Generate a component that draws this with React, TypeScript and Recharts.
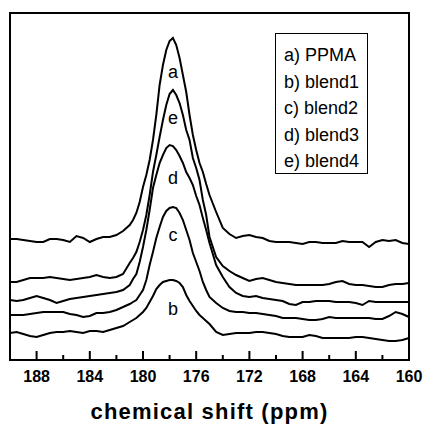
import {
  Line,
  LineChart,
  ReferenceArea,
  ReferenceDot,
  XAxis,
  YAxis,
} from "recharts";

// chemical shift grid (ppm), finer around the carbonyl peak
const ppm = [
  190, 189.5, 189, 188.5, 188, 187.5, 187, 186.5, 186, 185.5, 185, 184.5, 184, 183.5, 183, 182.5, 182, 181.5,
  181, 180.75, 180.5, 180.25, 180, 179.75, 179.5, 179.25, 179, 178.75, 178.5, 178.25, 178, 177.75, 177.5,
  177.25, 177, 176.75, 176.5, 176.25, 176, 175.75, 175.5, 175.25, 175,
  174.5, 174, 173.5, 173, 172.5, 172, 171.5, 171, 170.5, 170, 169.5, 169, 168.5, 168, 167.5, 167, 166.5,
  166, 165.5, 165, 164.5, 164, 163.5, 163, 162.5, 162, 161.5, 161, 160.5, 160,
];

// stacked spectra (intensity incl. vertical offset)
const ppmaA = [
  121, 121, 120, 119, 118, 118, 121, 121, 120, 118, 124, 122, 118, 121, 123, 123, 125, 129,
  135, 140, 147, 158, 173, 185, 200, 220, 245, 275, 295, 310, 319, 322, 315, 302, 285, 268, 245, 225, 210,
  197, 188, 176, 165,
  148, 132, 126, 122, 124, 125, 123, 122, 119, 118, 118, 118, 117, 116, 118, 118, 117, 117, 117, 119, 118,
  118, 118, 113, 118, 120, 119, 120, 117, 116,
];
const blend1B = [
  27, 28, 26, 24, 23, 25, 27, 28, 28, 29, 28, 27, 29, 29, 28, 30, 32, 34,
  38, 40, 42, 45, 48, 52, 58, 64, 71, 75, 78, 79, 80, 80, 79, 77, 73, 65, 59, 54, 49, 45, 42, 39, 36,
  28, 25, 26, 27, 27, 27, 28, 28, 27, 26, 24, 23, 23, 23, 25, 24, 22, 22, 22, 22, 22, 23, 23, 22, 21, 20,
  19, 19, 20, 22,
];
const blend2C = [
  45, 45, 45, 46, 47, 48, 48, 48, 48, 46, 45, 43, 44, 47, 47, 48, 50, 53,
  56, 58, 60, 65, 70, 80, 95, 108, 122, 133, 143, 149, 152, 153, 152, 147, 140, 130, 120, 107, 98, 89, 78,
  70, 63,
  57, 52, 49, 48, 48, 47, 47, 46, 45, 44, 42, 42, 42, 41, 40, 40, 41, 43, 42, 42, 42, 42, 42, 42, 41, 41,
  44, 48, 46, 43,
];
const blend3D = [
  60, 59, 60, 62, 64, 62, 60, 57, 59, 61, 62, 63, 64, 65, 66, 67, 68, 70,
  75, 81, 86, 98, 113, 130, 150, 172, 185, 197, 205, 212, 215, 214, 210, 204, 197, 188, 182, 175, 164, 155,
  142, 130, 117,
  95, 83, 73, 67, 64, 63, 64, 62, 61, 60, 59, 56, 55, 58, 58, 59, 59, 59, 58, 58, 58, 57, 55, 59, 58, 58,
  58, 58, 58, 58,
];
const blend4E = [
  78, 78, 80, 82, 82, 82, 83, 82, 81, 80, 81, 82, 83, 85, 83, 82, 83, 86,
  97, 102, 108, 118, 130, 145, 165, 188, 205, 223, 240, 255, 266, 270, 265, 257, 245, 230, 220, 202, 192,
  180, 160, 145, 123,
  103, 94, 89, 85, 82, 79, 81, 82, 80, 78, 77, 76, 75, 75, 75, 75, 75, 76, 78, 79, 76, 75, 75, 74, 73, 73,
  75, 76, 76, 77,
];

const legendItems = ["a) PPMA", "b) blend1", "c) blend2", "d) blend3", "e) blend4"];
const peakLabels = ["a", "e", "d", "c", "b"];
const peakLabelY = [288, 242, 182, 125, 51];
const peakLabelPpm = 177.75;

const majorTicks = [188, 184, 180, 176, 172, 168, 164, 160];
const allTicks = [188, 186, 184, 182, 180, 178, 176, 174, 172, 170, 168, 166, 164, 162, 160];

const data = ppm.map((p, i) => ({
  ppm: p,
  a: ppmaA[i],
  b: blend1B[i],
  c: blend2C[i],
  d: blend3D[i],
  e: blend4E[i],
}));

const FONT = "'Liberation Sans', Arial, Helvetica, sans-serif";

function ShiftTick(props: any) {
  const { x, y, payload } = props;
  const major = majorTicks.includes(payload.value);
  return (
    <g>
      <line x1={x} x2={x} y1={y} y2={y - (major ? 9 : 5)} stroke="#000" strokeWidth={2} />
      {major && (
        <text
          x={x}
          y={y + 22}
          textAnchor="middle"
          fontFamily={FONT}
          fontWeight="bold"
          fontSize={16}
          fill="#000"
        >
          {payload.value}
        </text>
      )}
    </g>
  );
}

export default function App() {
  return (
    <div
      style={{
        position: "absolute",
        left: 0,
        top: 0,
        width: 425,
        height: 425,
        background: "#fff",
        fontFamily: FONT,
      }}
    >
      <LineChart
        width={425}
        height={425}
        data={data}
        margin={{ top: 13, right: 16, left: 10, bottom: 0 }}
      >
        <XAxis
          dataKey="ppm"
          type="number"
          domain={[160, 190]}
          reversed
          ticks={allTicks}
          interval={0}
          tickLine={false}
          axisLine={false}
          tickSize={0}
          tickMargin={0}
          height={65}
          tick={<ShiftTick />}
          label={{
            value: "chemical shift (ppm)",
            position: "insideBottom",
            offset: 6,
            fill: "#000",
            fontSize: 22,
            fontWeight: "bold",
            fontFamily: FONT,
            letterSpacing: 1.2,
          }}
        />
        <YAxis type="number" domain={[0, 347]} hide />
        <ReferenceArea
          x1={190}
          x2={160}
          y1={0}
          y2={347}
          fill="none"
          fillOpacity={0}
          stroke="#000"
          strokeWidth={2}
        />
        {["a", "b", "c", "d", "e"].map((k) => (
          <Line
            key={k}
            dataKey={k}
            type="linear"
            stroke="#000"
            strokeWidth={2}
            dot={false}
            activeDot={false}
            isAnimationActive={false}
          />
        ))}
        {peakLabels.map((lbl, i) => (
          <ReferenceDot
            key={lbl}
            x={peakLabelPpm}
            y={peakLabelY[i]}
            r={1}
            fill="none"
            stroke="none"
            label={{
              value: lbl,
              position: "center",
              fill: "#000",
              fontSize: 18,
              fontFamily: FONT,
            }}
          />
        ))}
      </LineChart>
      <div
        style={{
          position: "absolute",
          left: 275,
          top: 33,
          width: 93,
          height: 141,
          boxSizing: "border-box",
          border: "1px solid #000",
          paddingTop: 8,
          paddingLeft: 8,
          fontSize: 18,
          lineHeight: "26.5px",
          color: "#000",
        }}
      >
        {legendItems.map((t) => (
          <div key={t} style={{ whiteSpace: "nowrap" }}>
            {t}
          </div>
        ))}
      </div>
    </div>
  );
}
